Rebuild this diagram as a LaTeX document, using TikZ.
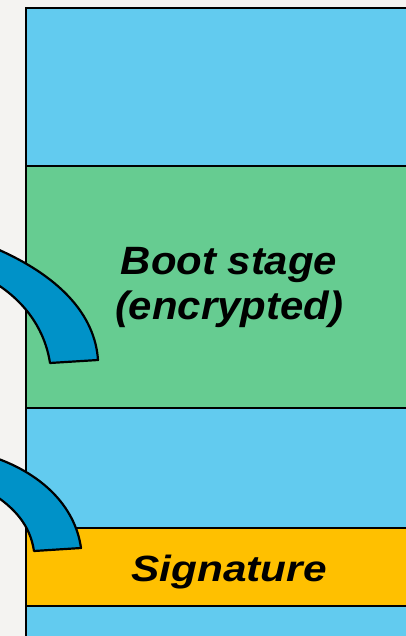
\documentclass[tikz,border=0pt]{standalone}
\usepackage{fontspec}
\setmainfont{Liberation Sans}
\definecolor{bgc}{RGB}{244,243,241}
\definecolor{bandblue}{RGB}{98,203,239}
\definecolor{bandgreen}{RGB}{102,204,145}
\definecolor{bandyellow}{RGB}{255,192,0}
\definecolor{arcblue}{RGB}{0,146,200}
\begin{document}
\begin{tikzpicture}[x=1pt,y=-1pt,
  band/.style={draw=black, line width=2.6pt, anchor=north west, minimum width=400pt, inner sep=0pt, outer sep=0pt},
  label/.style={text=black, align=center},
  arcshape/.style={fill=arcblue, draw=black, line width=2.2pt, line join=round}]
\useasboundingbox (0,0) rectangle (406,636);
\fill[bgc] (0,0) rectangle (406,636);
\clip (0,0) rectangle (406,636);
\node[band, fill=bandblue, minimum height=158pt] (top) at (26,8) {};
\node[band, fill=bandgreen, minimum height=242pt] (boot) at (26,166) {};
\node[band, fill=bandblue, minimum height=120pt] (mid) at (26,408) {};
\node[band, fill=bandyellow, minimum height=78pt] (sig) at (26,528) {};
\node[band, fill=bandblue, minimum height=60pt] (bot) at (26,606) {};
\node[label, font=\fontsize{39.5}{45}\selectfont\bfseries\itshape] (boottxt) at (229,288) {\scalebox{1.06}[1]{Boot stage}\\\scalebox{1.06}[1]{(encrypted)}};
\node[label, font=\fontsize{36.5}{40}\selectfont\bfseries\itshape] (sigtxt) at (229,572) {\scalebox{1.16}[1]{Signature}};
\draw[arcshape] (-10,246) .. controls (60,275) and (95,315) .. (98,360) -- (50,363) .. controls (45,330) and (25,300) .. (-10,280);
\draw[arcshape] (-10,456) .. controls (40,472) and (75,505) .. (81,548) -- (34,551) .. controls (30,525) and (15,508) .. (-10,492);
\end{tikzpicture}
\end{document}
